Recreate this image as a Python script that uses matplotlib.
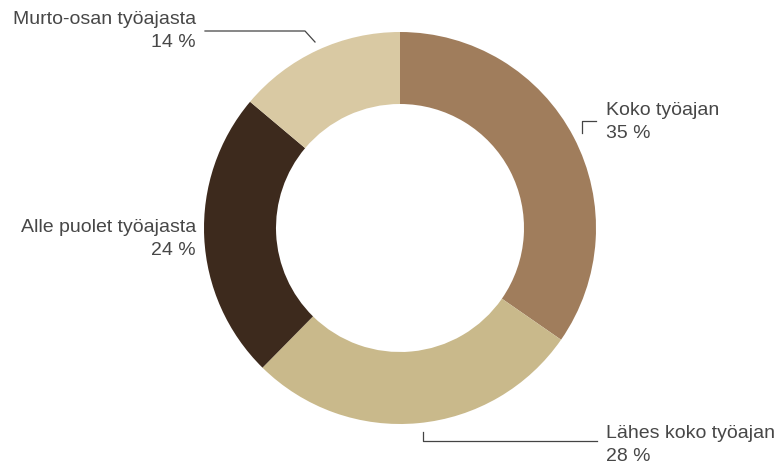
import matplotlib.pyplot as plt

labels = ['Koko työajan', 'Lähes koko työajan', 'Alle puolet työajasta', 'Murto-osan työajasta']
shares = [35, 28, 24, 14]
colors = ['#A07D5C', '#C9B98B', '#3D2A1D', '#D9C9A3']

plt.rcParams['font.family'] = ['Liberation Sans', 'DejaVu Sans']

fig = plt.figure(figsize=(7.76, 4.65), dpi=100)
ax = fig.add_axes([0, 0, 1, 1])

# y axis runs downwards, so counterclock=True draws clockwise from the top
ax.pie(shares, colors=colors, startangle=-90, counterclock=True,
       center=(400, 228), radius=196, normalize=True,
       wedgeprops=dict(width=72, linewidth=0), frame=True)
ax.set_xlim(0, 776)
ax.set_ylim(465, 0)
ax.set_aspect('equal')
ax.axis('off')

txt = dict(fontsize=14, color='#474747', va='center', linespacing=1.4)
line = dict(color='#444444', lw=0.9)

# Koko työajan
ax.text(606, 122, f'{labels[0]}\n{shares[0]} %', ha='left', **txt)
ax.plot([582, 582, 596], [133, 121, 121], **line)

# Lähes koko työajan
ax.text(606, 445, f'{labels[1]}\n{shares[1]} %', ha='left', **txt)
ax.plot([423, 423, 597], [432, 441, 441], **line)

# Alle puolet työajasta
ax.text(196, 239, f'{labels[2]}\n{shares[2]} %', ha='right', multialignment='right', **txt)

# Murto-osan työajasta
ax.text(196, 31, f'{labels[3]}\n{shares[3]} %', ha='right', multialignment='right', **txt)
ax.plot([205, 305, 315], [31, 31, 42], **line)

fig.savefig('out.png', dpi=100)
